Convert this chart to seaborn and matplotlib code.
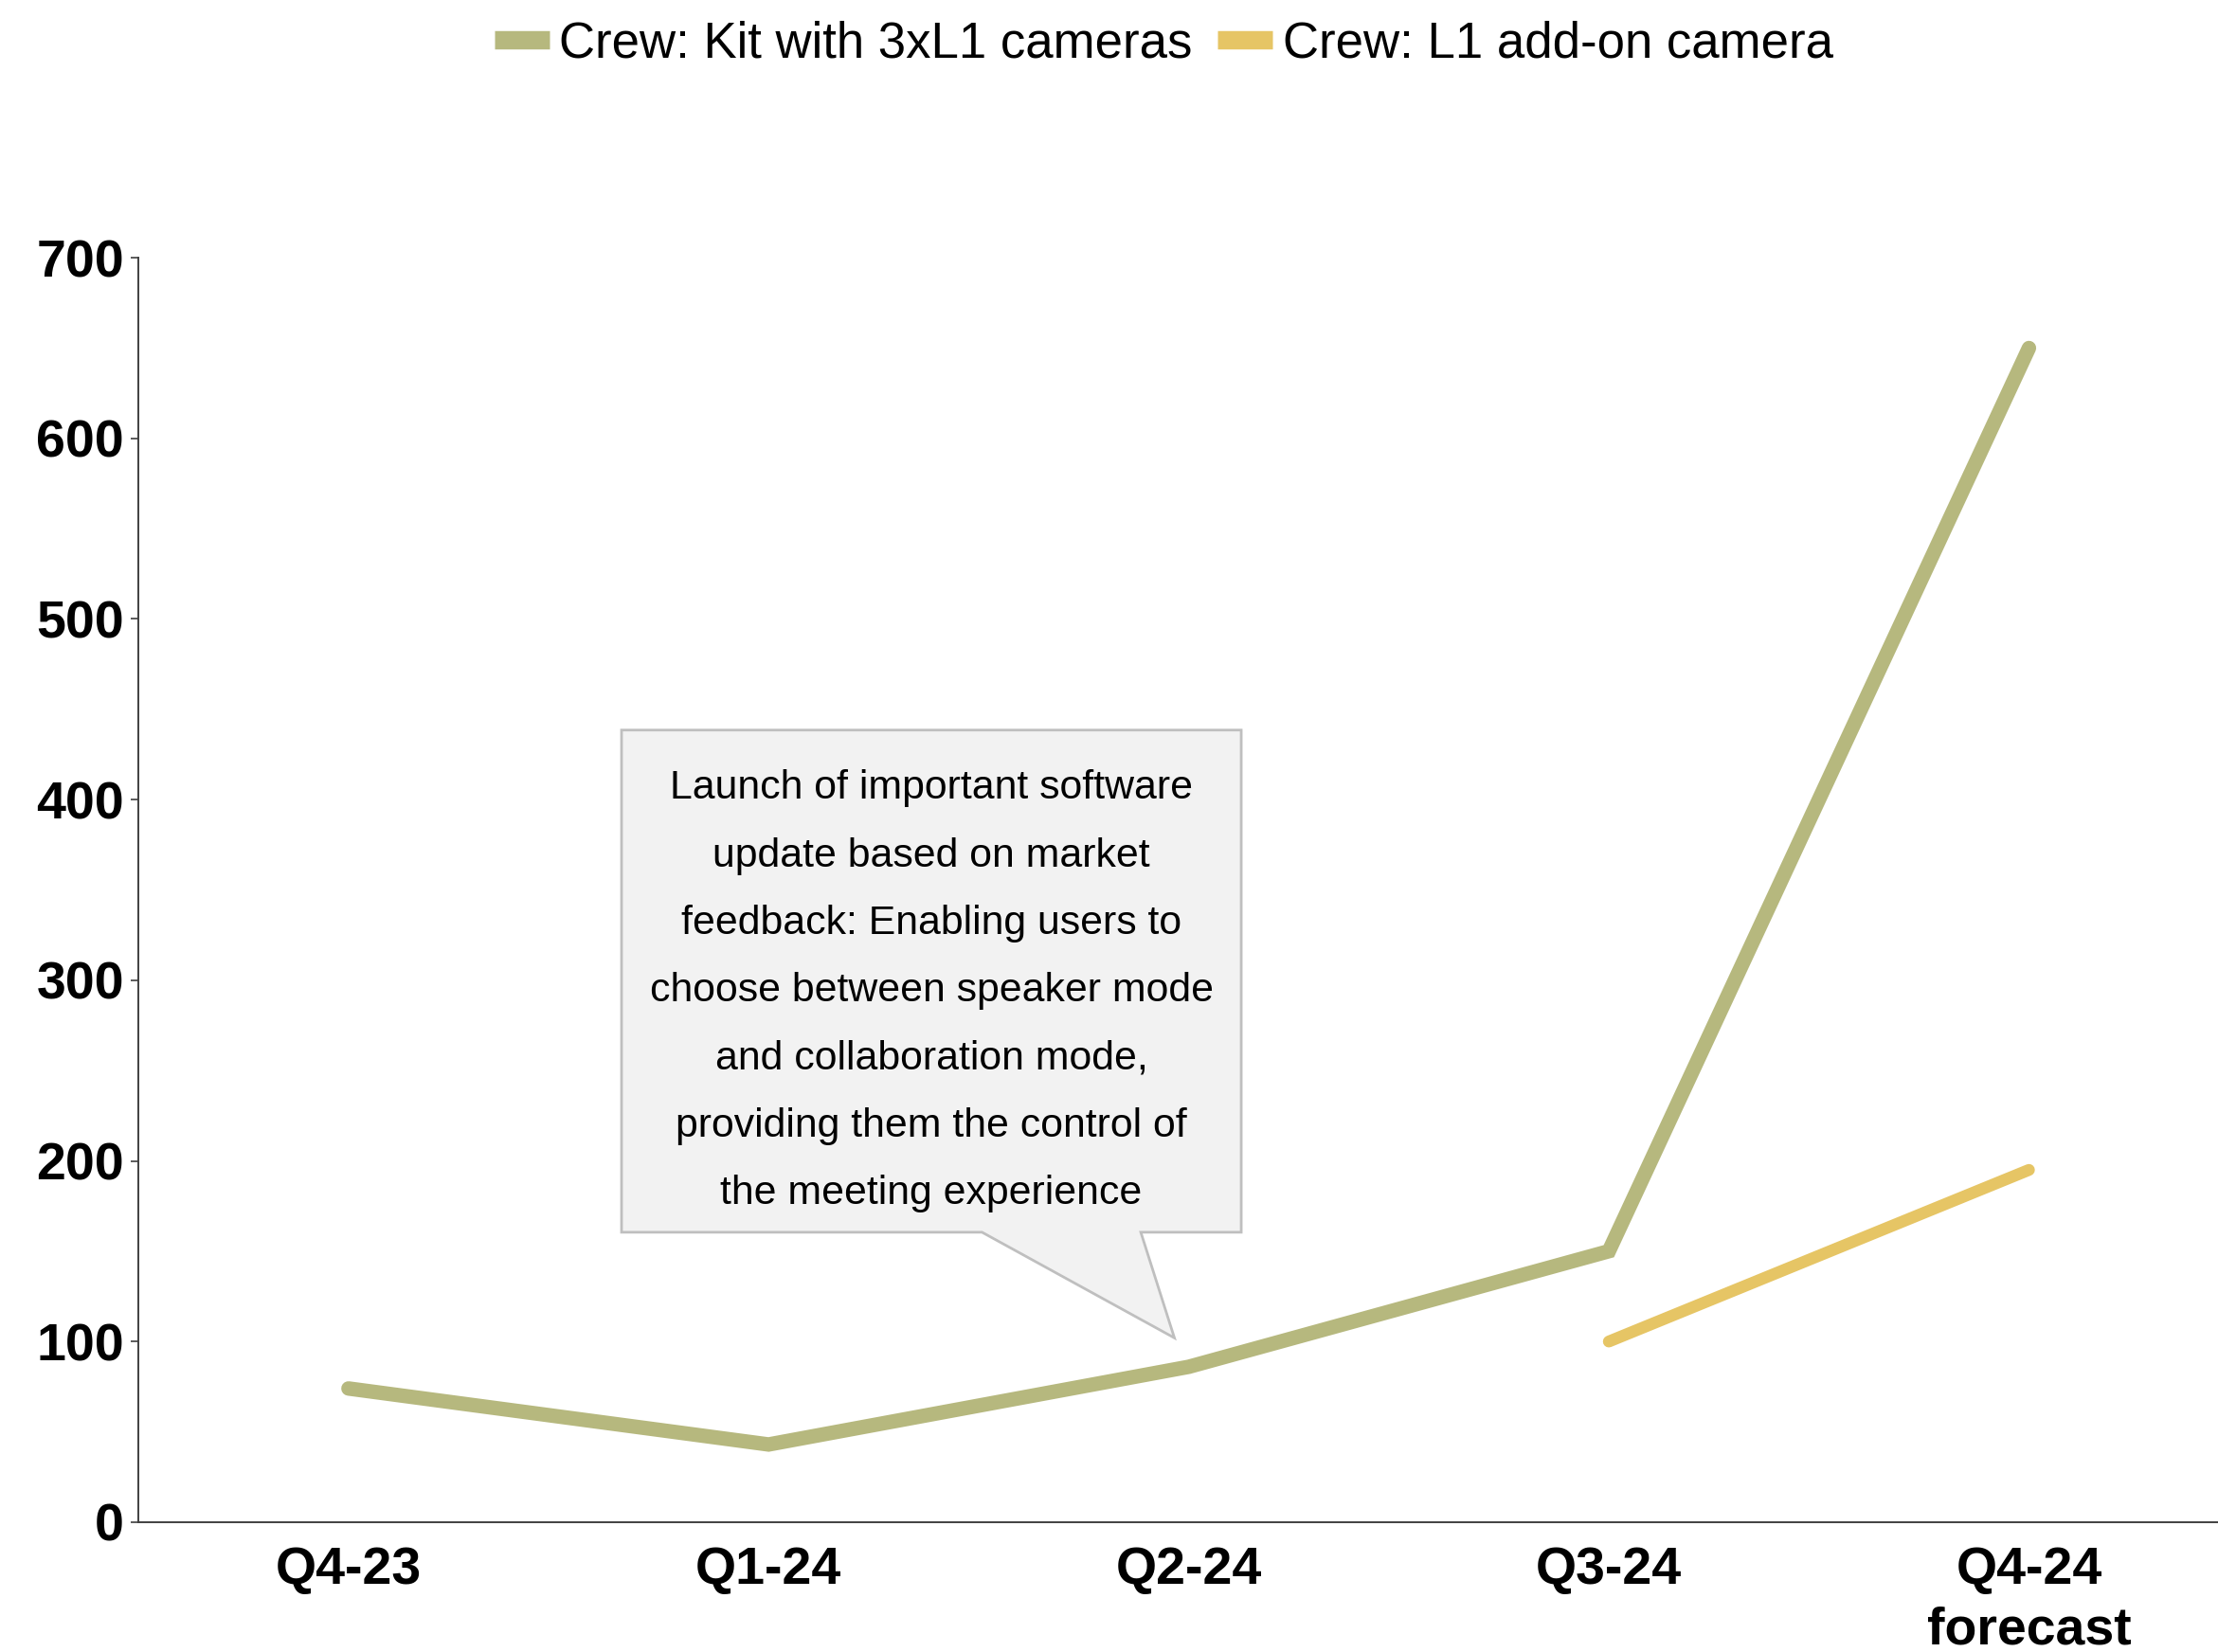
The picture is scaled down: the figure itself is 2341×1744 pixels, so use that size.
import numpy as np
import pandas as pd
import matplotlib
matplotlib.use("Agg")
import matplotlib.pyplot as plt
from matplotlib.patches import Polygon
from matplotlib.lines import Line2D
import seaborn as sns

# Quarterly data
quarters = ["Q4-23", "Q1-24", "Q2-24", "Q3-24", "Q4-24\nforecast"]
kit_values = [74, 43, 86, 150, 650]
addon_quarters = ["Q3-24", "Q4-24\nforecast"]
addon_values = [100, 195]
series_names = ["Crew: Kit with 3xL1 cameras", "Crew: L1 add-on camera"]
y_ticks = [0, 100, 200, 300, 400, 500, 600, 700]
note_text = ("Launch of important software\nupdate based on market\n"
             "feedback: Enabling users to\nchoose between speaker mode\n"
             "and collaboration mode,\nproviding them the control of\n"
             "the meeting experience")

KIT_COLOR = "#b6b87e"
ADDON_COLOR = "#e6c565"

sns.set_theme(style="white")
plt.rcParams["font.family"] = ["Liberation Sans", "DejaVu Sans"]
plt.rcParams["text.color"] = "black"

pos = {q: i for i, q in enumerate(quarters)}
df = pd.concat([
    pd.DataFrame({"x": [pos[q] for q in quarters], "value": kit_values,
                  "series": series_names[0]}),
    pd.DataFrame({"x": [pos[q] for q in addon_quarters], "value": addon_values,
                  "series": series_names[1]}),
], ignore_index=True)

fig = plt.figure(figsize=(23.41, 17.44), dpi=100)
ax = fig.add_axes([0.0624, 0.0786, 0.9376, 0.7654])

sns.lineplot(data=df[df.series == series_names[0]], x="x", y="value", ax=ax,
             color=KIT_COLOR, linewidth=11, solid_capstyle="round",
             solid_joinstyle="miter", legend=False)
sns.lineplot(data=df[df.series == series_names[1]], x="x", y="value", ax=ax,
             color=ADDON_COLOR, linewidth=9, solid_capstyle="round",
             legend=False)

ax.set_xlim(-0.5, 4.45)
ax.set_ylim(0, 700)
ax.set_xticks(range(len(quarters)))
ax.set_xticklabels(quarters, fontsize=40, fontweight="bold", linespacing=1.3)
ax.set_yticks(y_ticks)
ax.set_yticklabels([str(v) for v in y_ticks], fontsize=40, fontweight="bold")
ax.set_xlabel("")
ax.set_ylabel("")
ax.tick_params(axis="x", length=0, pad=18, labelcolor="black")
ax.tick_params(axis="y", length=6, width=1.2, pad=5, labelcolor="black",
               color="#404040", left=True, direction="out")
for side in ("top", "right"):
    ax.spines[side].set_visible(False)
for side in ("left", "bottom"):
    ax.spines[side].set_color("#404040")
    ax.spines[side].set_linewidth(1.4)

# Callout box pointing at the Q2-24 release
callout = Polygon(
    [(0.65, 438.5), (2.125, 438.5), (2.125, 160.5), (1.886, 160.5),
     (1.966, 102), (1.508, 160.5), (0.65, 160.5)],
    closed=True, facecolor="#f2f2f2", edgecolor="#bfbfbf", linewidth=2,
    zorder=3)
ax.add_patch(callout)
ax.text(1.3875, 294, note_text, ha="center", va="center", fontsize=30.8,
        linespacing=2.01, color="black", zorder=4)

handles = [Line2D([0], [0], color=KIT_COLOR, linewidth=14, solid_capstyle="butt"),
           Line2D([0], [0], color=ADDON_COLOR, linewidth=14, solid_capstyle="butt")]
leg = fig.legend(handles, series_names, loc="center", bbox_to_anchor=(0.5246, 0.9735),
                 ncol=2, frameon=False, fontsize=38, handlelength=1.1,
                 handletextpad=0.2, columnspacing=0.5)
for t in leg.get_texts():
    t.set_color("black")

fig.savefig("out.png", dpi=100)
